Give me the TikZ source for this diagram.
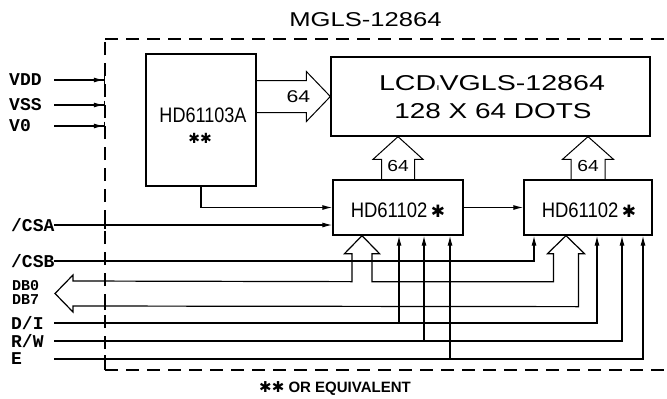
\documentclass[tikz,border=0pt]{standalone}
\usepackage{fontspec}
\setmainfont{Liberation Sans}
\newfontfamily\lblfont{Liberation Mono}
\newfontfamily\symfont{DejaVu Sans}
\usetikzlibrary{arrows.meta,calc}
\newcommand{\fsz}[1]{\fontsize{#1}{#1}\selectfont}
\begin{document}
\begin{tikzpicture}[x=1pt,y=-1pt,
  box/.style={draw,line width=1.3pt,inner sep=0pt},
  wire/.style={line width=1.2pt},
  arr/.style={wire,-{Latex[length=10pt,width=5pt]}},
  pinarr/.style={wire,-{Latex[length=10pt,width=5pt]Bar[width=9pt]}},
  hollow/.style={line width=1pt,line join=miter},
  frame/.style={line width=1.2pt,dash pattern=on 13pt off 8pt},
  lbl/.style={font=\lblfont\bfseries\fsz{18},inner sep=0pt,anchor=west},
  slbl/.style={font=\lblfont\bfseries\fsz{15},inner sep=0pt,anchor=west},
  txt/.style={inner sep=0pt},
  tick/.style={line width=1.2pt}]
\useasboundingbox (0,0) rectangle (667,399);

% frame
\coordinate (fTL) at (105,39);
\coordinate (fTR) at (667,39);
\coordinate (fBL) at (105,370);
\coordinate (fBR) at (667,370);
\draw[frame] (fTL) -- (fTR);
\draw[frame] (fBL) -- (fTL);
\draw[frame] (fBL) -- (fBR);

\node[txt] (title) at (365.5,20) {\fsz{20}\scalebox{1.28}[1]{MGLS-12864}};

% boxes
\node[box,minimum width=110pt,minimum height=132pt] (hda) at (201,120) {};
\node[box,minimum width=319pt,minimum height=79pt] (lcd) at (490.5,96.5) {};
\node[box,minimum width=130pt,minimum height=55pt] (hb1) at (398,207.5) {};
\node[box,minimum width=128pt,minimum height=55pt] (hb2) at (588,207.5) {};

\node[txt] (hdatxt) at (203,115) {\fsz{21}\scalebox{0.86}[1]{HD61103A}};
\node[txt] (hdastar) at (200,138) {\symfont\fsz{14}✱✱};
\node[txt] (lcd1) at (492,83) {\fsz{21.5}\scalebox{1.33}[1]{LCD{\fsz{9}ı}VGLS-12864}};
\node[txt] (lcd2) at (493,111) {\fsz{21.5}\scalebox{1.3}[1]{128 X 64 DOTS}};
\node[txt] (hb1txt) at (398,210) {\fsz{21}\scalebox{0.88}[1]{HD61102}\,{\symfont\fsz{17}✱}};
\node[txt] (hb2txt) at (589,210) {\fsz{21}\scalebox{0.88}[1]{HD61102}\,{\symfont\fsz{17}✱}};

% wide arrow HD61103A -> LCD
\draw[hollow] ($(hda.east |- lcd.west)+(0,-16)$) -- ($(lcd.west)+(-24,-16)$) -- ($(lcd.west)+(-24,-25)$)
  -- (lcd.west) -- ($(lcd.west)+(-24,25)$) -- ($(lcd.west)+(-24,16)$) -- ($(hda.east |- lcd.west)+(0,16)$);
\node[txt] (n64a) at ($(lcd.west)+(-32,0)$) {\fsz{17}\scalebox{1.25}[1]{64}};

% up arrows 64
\draw[hollow] ($(hb1.north)+(-16.5,0)$) -- ($(hb1.north)+(-16.5,-20)$) -- ($(hb1.north)+(-25,-20)$)
  -- (hb1.north |- lcd.south) -- ($(hb1.north)+(25,-20)$) -- ($(hb1.north)+(16.5,-20)$) -- ($(hb1.north)+(16.5,0)$);
\node[txt] (n64b) at ($(hb1.north)+(0,-13)$) {\fsz{16}\scalebox{1.2}[1]{64}};
\draw[hollow] ($(hb2.north)+(-17,0)$) -- ($(hb2.north)+(-17,-20)$) -- ($(hb2.north)+(-25.5,-20)$)
  -- (hb2.north |- lcd.south) -- ($(hb2.north)+(25.5,-20)$) -- ($(hb2.north)+(17,-20)$) -- ($(hb2.north)+(17,0)$);
\node[txt] (n64c) at ($(hb2.north)+(0,-13)$) {\fsz{16}\scalebox{1.2}[1]{64}};

% internal arrows
\draw[arr] (hda.south) |- (hb1.west);
\draw[arr] (hb1.east) -- (hb2.west);

% labels
\node[lbl] (vdd) at (9,80) {VDD};
\node[lbl] (vss) at (9,105) {VSS};
\node[lbl] (v0) at (9,126) {V0};
\node[lbl] (csa) at (11,225) {/CSA};
\node[lbl] (csb) at (11,261) {/CSB};
\node[slbl] (db0) at (12,286) {DB0};
\node[slbl] (db7) at (12,300) {DB7};
\node[lbl] (di) at (11,323) {D/I};
\node[lbl] (rw) at (11,341) {R/W};
\node[lbl] (e) at (11,359) {E};

% line starts
\coordinate (vddS) at (54,80);
\coordinate (vssS) at (54,105);
\coordinate (v0S) at (54,126);
\coordinate (csaS) at (54,225);
\coordinate (csbS) at (54,261);
\coordinate (diS) at (54,323);
\coordinate (rwS) at (54,341);
\coordinate (eS) at (54,359);

\draw[pinarr] (vddS) -- (vddS -| fTL);
\draw[pinarr] (vssS) -- (vssS -| fTL);
\draw[pinarr] (v0S) -- (v0S -| fTL);

% pins on the chips
\coordinate (b2csb) at ([xshift=-54pt]hb2.south);
\coordinate (b1di) at ([xshift=1pt]hb1.south);
\coordinate (b1rw) at ([xshift=26pt]hb1.south);
\coordinate (b1e) at ([xshift=52pt]hb1.south);
\coordinate (b2di) at ([xshift=9pt]hb2.south);
\coordinate (b2rw) at ([xshift=34pt]hb2.south);
\coordinate (b2e) at ([xshift=55pt]hb2.south);

\draw[arr] (csaS) -- (csaS -| hb1.west);
\draw[arr] (csbS) -| (b2csb);
\draw[arr] (diS) -| (b2di);
\draw[arr] (b1di |- diS) -- (b1di);
\draw[arr] (rwS) -| (b2rw);
\draw[arr] (b1rw |- rwS) -- (b1rw);
\draw[arr] (eS) -| (b2e);
\draw[arr] (b1e |- eS) -- (b1e);

% data bus
\coordinate (bus1) at ([xshift=-36pt]hb1.south);
\coordinate (bus2) at ([xshift=-22pt]hb2.south);
\coordinate (busL) at (55,293.5);
\coordinate (bdb0) at (73,281);
\coordinate (bdb7) at (73,306);
\draw[hollow,line width=1.2pt] (bdb0) -- ($(bus1)+(-10,46)$) -- ($(bus1)+(-10,18)$) -- ($(bus1)+(-17.5,18)$)
  -- (bus1) -- ($(bus1)+(17.5,18)$) -- ($(bus1)+(10,18)$) -- ($(bus1)+(10,46)$)
  -- ($(bus2)+(-12.5,46)$) -- ($(bus2)+(-12.5,18)$) -- ($(bus2)+(-18.5,18)$)
  -- (bus2) -- ($(bus2)+(18.5,18)$) -- ($(bus2)+(12.5,18)$) -- ($(bus2)+(12.5,71)$)
  -- (bdb7) -- ($(bdb7)+(0,6)$) -- (busL) -- ($(bdb0)+(0,-6)$) -- cycle;

% ticks where lines cross the frame
\foreach \p in {csaS,csbS,bdb0,bdb7,diS,rwS,eS}
  \draw[tick] (\p -| fTL) ++(0,-4) -- ++(0,8);

\node[txt] (note) at (335,389) {\bfseries\fsz{15}{\symfont\fsz{15}✱✱}\ OR EQUIVALENT};
\end{tikzpicture}
\end{document}
